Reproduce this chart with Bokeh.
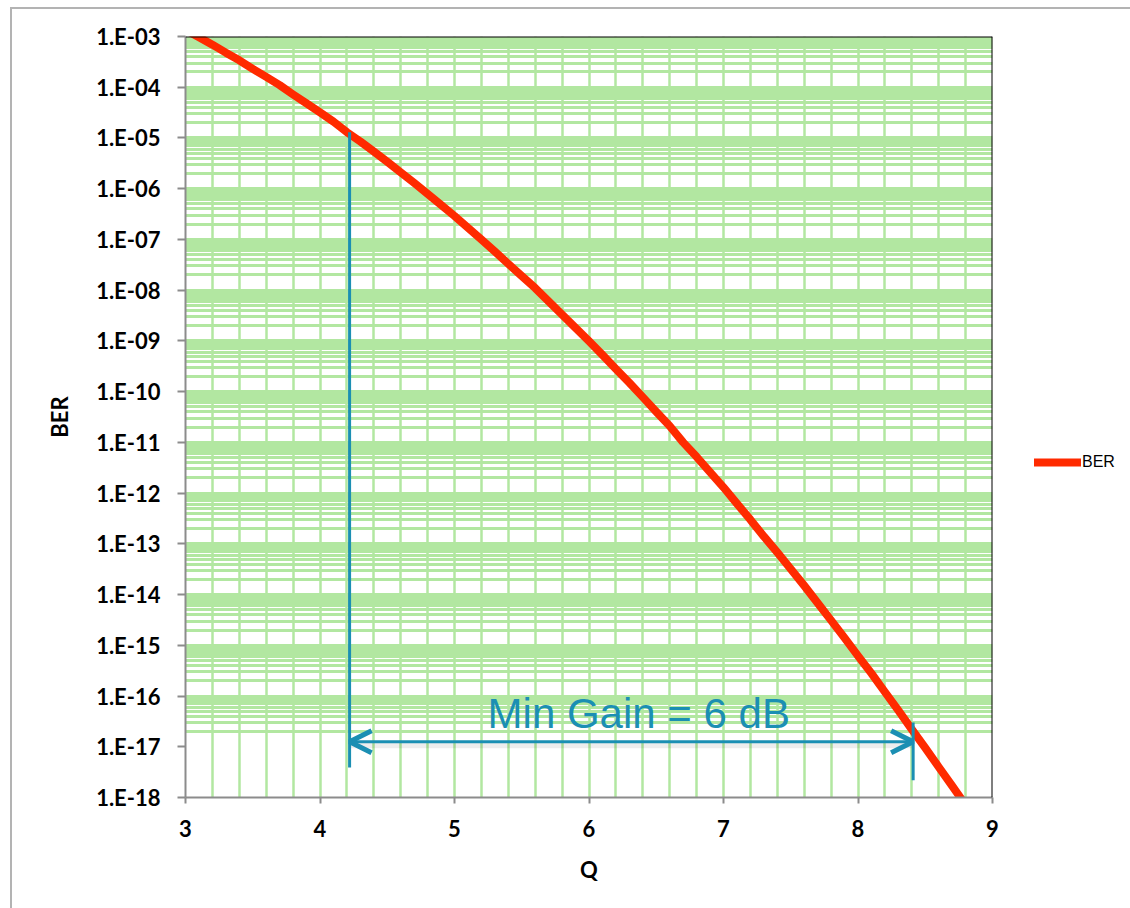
from bokeh.plotting import figure
from bokeh.models import (Range1d, FixedTicker, CustomJSTickFormatter, Span, Arrow,
                          OpenHead, Label, Legend, LegendItem)
from bokeh.embed import file_html
from bokeh.resources import INLINE

# ---------------- data ----------------
q_values = [3.0, 3.1, 3.2, 3.3, 3.4, 3.5, 3.6, 3.7, 3.8, 3.9,
            4.0, 4.1, 4.2, 4.3, 4.4, 4.5, 4.6, 4.7, 4.8, 4.9,
            5.0, 5.1, 5.2, 5.3, 5.4, 5.5, 5.6, 5.7, 5.8, 5.9,
            6.0, 6.1, 6.2, 6.3, 6.4, 6.5, 6.6, 6.7, 6.8, 6.9,
            7.0, 7.1, 7.2, 7.3, 7.4, 7.5, 7.6, 7.7, 7.8, 7.9,
            8.0, 8.1, 8.2, 8.3, 8.4, 8.5, 8.6, 8.7, 8.8]
ber_values = [1.35e-3, 9.7e-4, 6.9e-4, 4.8e-4, 3.4e-4, 2.3e-4, 1.6e-4, 1.1e-4, 7.2e-5, 4.8e-5,
              3.2e-5, 2.1e-5, 1.3e-5, 8.5e-6, 5.4e-6, 3.4e-6, 2.1e-6, 1.3e-6, 7.9e-7, 4.8e-7,
              2.9e-7, 1.7e-7, 1.0e-7, 5.8e-8, 3.3e-8, 1.9e-8, 1.1e-8, 6.0e-9, 3.3e-9, 1.8e-9,
              9.9e-10, 5.3e-10, 2.8e-10, 1.5e-10, 7.8e-11, 4.0e-11, 2.1e-11, 1.0e-11, 5.2e-12, 2.6e-12,
              1.3e-12, 6.2e-13, 3.0e-13, 1.4e-13, 6.8e-14, 3.2e-14, 1.5e-14, 6.8e-15, 3.1e-15, 1.4e-15,
              6.2e-16, 2.8e-16, 1.2e-16, 5.2e-17, 2.2e-17, 9.5e-18, 4.0e-18, 1.7e-18, 7.1e-19]

series_name = "BER"
x_label = "Q"
y_label = "BER"
x_ticks = [3, 4, 5, 6, 7, 8, 9]
y_ticks = [1e-3, 1e-4, 1e-5, 1e-6, 1e-7, 1e-8, 1e-9, 1e-10, 1e-11, 1e-12,
           1e-13, 1e-14, 1e-15, 1e-16, 1e-17, 1e-18]

# annotation values
gain_text = "Min Gain = 6 dB"
q_low = 4.22            # Q where the left marker meets the curve
ber_low_top = 1.3e-5
ber_low_bottom = 3.9e-18
q_high = 8.41           # Q of right marker
ber_high_top = 3.0e-17
ber_high_bottom = 2.2e-18
ber_arrow = 1.26e-17
q_text = 6.37
ber_text = 4.6e-17

# grid positions
xgrid_ticks = [round(3.2 + 0.2 * i, 1) for i in range(29)]
ygrid_ticks = []
for e in range(-17, -3):
    for k in range(2, 10):
        ygrid_ticks.append(k * 10.0 ** e)
for e in range(-16, -2):
    ygrid_ticks.append(10.0 ** e)

RED = "#ff2a00"
TEAL = "#1b8fb3"
GRID = "#b2e7a1"

p = figure(frame_width=807, frame_height=761, x_range=Range1d(3, 9), y_range=Range1d(1e-18, 1e-3),
           y_axis_type="log", output_backend="svg", toolbar_location=None,
           min_border_left=173, min_border_top=27, min_border_right=10, min_border_bottom=111,
           outline_line_color=None, background_fill_color="white", border_fill_color="white")
p.styles = {"margin-left": "10px", "margin-top": "7px",
            "border-left": "2px solid #b3b3b3", "border-top": "2px solid #b3b3b3"}

# grids
p.xgrid.ticker = FixedTicker(ticks=xgrid_ticks)
p.xgrid.grid_line_color = GRID
p.xgrid.grid_line_width = 2.5
p.ygrid.ticker = FixedTicker(ticks=ygrid_ticks)
p.ygrid.grid_line_color = GRID
p.ygrid.grid_line_width = 3

# axes
for ax in (p.xaxis[0], p.yaxis[0]):
    ax.axis_line_color = "#8c8c8c"
    ax.axis_line_width = 2
    ax.major_tick_line_color = "#8c8c8c"
    ax.major_tick_line_width = 2
    ax.major_tick_in = 0
    ax.minor_tick_line_color = None
    ax.major_label_text_font = "Lato"
    ax.major_label_text_font_style = "bold"
    ax.major_label_text_font_size = "22px"
    ax.major_label_text_color = "black"
    ax.axis_label_text_font = "Lato"
    ax.axis_label_text_font_style = "bold"
    ax.axis_label_text_font_size = "22px"
    ax.axis_label_text_color = "black"

p.xaxis.ticker = FixedTicker(ticks=x_ticks)
p.xaxis.major_tick_out = 6
p.xaxis.major_label_standoff = 16
p.xaxis.axis_label = x_label
p.xaxis.axis_label_standoff = 16

p.yaxis.ticker = FixedTicker(ticks=y_ticks)
p.yaxis.formatter = CustomJSTickFormatter(code="""
const e = Math.round(Math.log10(tick));
const a = Math.abs(e);
return '1.E' + (e < 0 ? '-' : '+') + (a < 10 ? '0' : '') + a;
""")
p.yaxis.major_tick_out = 8
p.yaxis.major_label_standoff = 17
p.yaxis.axis_label = y_label
p.yaxis.axis_label_standoff = 20

# top / right frame lines
p.add_layout(Span(location=1e-3, dimension="width", line_color="black", line_width=2))
p.add_layout(Span(location=9, dimension="height", line_color="black", line_width=2))

# curve
r = p.line(q_values, ber_values, line_color=RED, line_width=8, line_join="round", line_cap="round")

# annotations
p.line([q_low, q_high], [ber_arrow * 0.85, ber_arrow * 0.85], line_color="#000000",
       line_alpha=0.07, line_width=6)
p.segment(x0=[q_low, q_high], y0=[ber_low_top, ber_high_top],
          x1=[q_low, q_high], y1=[ber_low_bottom, ber_high_bottom],
          line_color=TEAL, line_width=3)
p.add_layout(Arrow(start=OpenHead(size=22, line_width=5, line_color=TEAL),
                   end=OpenHead(size=22, line_width=5, line_color=TEAL),
                   x_start=q_low, y_start=ber_arrow, x_end=q_high, y_end=ber_arrow,
                   line_color=TEAL, line_width=3))
p.add_layout(Label(x=q_text, y=ber_text, text=gain_text, text_align="center",
                   text_baseline="alphabetic", text_font="Liberation Sans",
                   text_font_size="42px", text_color=TEAL))

legend = Legend(items=[LegendItem(label=series_name, renderers=[r])], location=(42, 325),
                glyph_width=47, glyph_height=20, label_standoff=1, padding=0, margin=0,
                border_line_color=None, background_fill_alpha=0,
                label_text_font="Liberation Sans", label_text_font_size="16px",
                label_text_color="black")
p.add_layout(legend, "right")

open("out.html", "w").write(file_html(p, INLINE))
